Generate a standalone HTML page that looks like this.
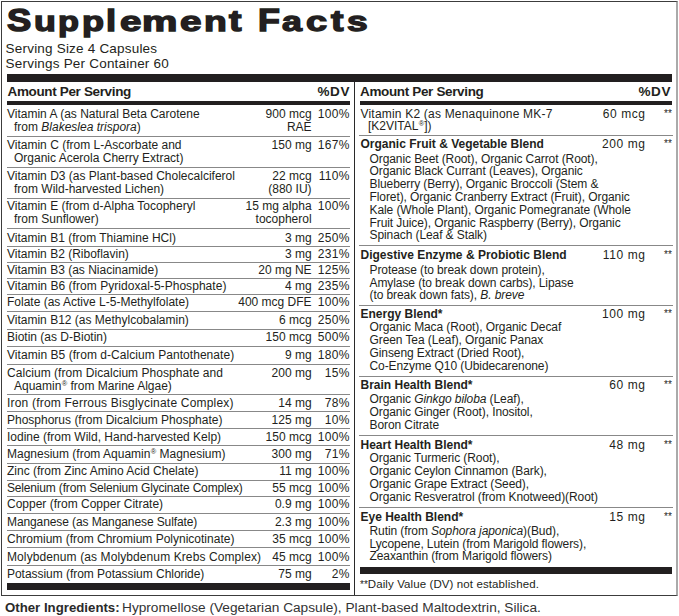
<!DOCTYPE html>
<html><head><meta charset="utf-8"><style>
html,body{margin:0;padding:0;background:#fff;}
body{width:679px;height:616px;position:relative;overflow:hidden;font-family:"Liberation Sans",sans-serif;color:#231f20;}
.t{position:absolute;white-space:nowrap;font-size:12px;line-height:13px;}
.b{font-weight:bold;}
.r{position:absolute;}
.ast{position:absolute;font-size:10px;line-height:10px;letter-spacing:0px;white-space:nowrap;}
.s{letter-spacing:-0.09px;}
.n{letter-spacing:0px;}
.nd{letter-spacing:0.3px;}
.n2{letter-spacing:0.6px;}
sup{font-size:7.4px;vertical-align:baseline;line-height:0;position:relative;top:-3.8px;margin-left:0.3px;}
.box{position:absolute;left:1px;top:1px;width:674px;height:593px;border:1px solid #3c3c3c;border-right:2px solid #aaaaaa;}
.tg{position:absolute;top:1px;font-size:29.5px;font-weight:bold;line-height:40px;white-space:nowrap;transform-origin:0 30px;-webkit-text-stroke:1.4px #231f20;}
.serv{position:absolute;left:5.6px;font-size:13.5px;line-height:15px;white-space:nowrap;letter-spacing:0.2px;}
.hdr{position:absolute;font-size:13.5px;font-weight:bold;line-height:15px;white-space:nowrap;letter-spacing:-0.35px;}
</style></head><body>
<div class="box"></div>
<div class="tg" style="left:7.22px;transform:translateY(-0.5px) scale(1.232,1.04)">S</div>
<div class="tg" style="left:33.53px;transform:translateY(-0.5px) scale(1.214,0.95)">u</div>
<div class="tg" style="left:57.75px;transform:translateY(-0.5px) scale(1.162,0.95)">p</div>
<div class="tg" style="left:81.88px;transform:translateY(-0.5px) scale(1.223,0.95)">p</div>
<div class="tg" style="left:106.43px;transform:translateY(-0.5px) scale(1.230,0.97)">l</div>
<div class="tg" style="left:119.91px;transform:translateY(-0.5px) scale(1.304,0.95)">e</div>
<div class="tg" style="left:142.32px;transform:translateY(-0.5px) scale(1.350,0.95)">m</div>
<div class="tg" style="left:179.61px;transform:translateY(-0.5px) scale(1.310,0.95)">e</div>
<div class="tg" style="left:203.62px;transform:translateY(-0.5px) scale(1.266,0.95)">n</div>
<div class="tg" style="left:228.53px;transform:translateY(-0.5px) scale(1.266,0.99)">t</div>
<div class="tg" style="left:257.75px;transform:translateY(-0.5px) scale(1.216,1.05)">F</div>
<div class="tg" style="left:282.00px;transform:translateY(-0.5px) scale(1.214,0.95)">a</div>
<div class="tg" style="left:306.22px;transform:translateY(-0.5px) scale(1.286,0.95)">c</div>
<div class="tg" style="left:331.03px;transform:translateY(-0.5px) scale(1.266,0.99)">t</div>
<div class="tg" style="left:346.98px;transform:translateY(-0.5px) scale(1.260,0.95)">s</div>

<div class="serv" style="top:41px">Serving Size 4 Capsules</div>
<div class="serv" style="top:56px">Servings Per Container 60</div>
<div class="r" style="left:7px;top:74px;width:665px;height:8px;background:#221f20"></div>
<div class="r" style="left:354px;top:82px;width:1px;height:513px;background:#2a2a2a"></div>
<div class="hdr" style="left:7.5px;top:84px">Amount Per Serving</div>
<div class="hdr" style="right:329px;top:84px;letter-spacing:0.6px">%DV</div>
<div class="hdr" style="left:360px;top:84px">Amount Per Serving</div>
<div class="hdr" style="right:8px;top:84px;letter-spacing:0.6px">%DV</div>
<div class="r" style="left:7px;top:101px;width:343px;height:4px;background:#221f20"></div>
<div class="r" style="left:360px;top:101px;width:312px;height:4px;background:#221f20"></div>
<div class="t " style="left:7px;top:108px;">Vitamin A (as Natural Beta Carotene</div><div class="t " style="left:14px;top:121px;">from <i>Blakeslea trispora</i>)</div><div class="t n" style="right:367.4px;top:108px;">900 mcg</div><div class="t n" style="right:367.4px;top:121px;">RAE</div><div class="t nd" style="right:329.3px;top:108px;">100%</div><div class="r" style="left:7px;top:136px;width:343px;height:1px;background:#888888"></div><div class="t " style="left:7px;top:139px;">Vitamin C (from L-Ascorbate and</div><div class="t " style="left:14px;top:152px;">Organic Acerola Cherry Extract)</div><div class="t n" style="right:367.4px;top:139px;">150 mg</div><div class="t nd" style="right:329.3px;top:139px;">167%</div><div class="r" style="left:7px;top:167px;width:343px;height:1px;background:#888888"></div><div class="t " style="left:7px;top:170px;">Vitamin D3 (as Plant-based Cholecalciferol</div><div class="t " style="left:14px;top:183px;">from Wild-harvested Lichen)</div><div class="t n" style="right:367.4px;top:170px;">22 mcg</div><div class="t n" style="right:367.4px;top:183px;">(880 IU)</div><div class="t nd" style="right:329.3px;top:170px;">110%</div><div class="r" style="left:7px;top:198px;width:343px;height:1px;background:#888888"></div><div class="t " style="left:7px;top:200px;">Vitamin E (from d-Alpha Tocopheryl</div><div class="t " style="left:14px;top:213px;">from Sunflower)</div><div class="t n" style="right:367.4px;top:200px;">15 mg alpha</div><div class="t n" style="right:367.4px;top:213px;">tocopherol</div><div class="t nd" style="right:329.3px;top:200px;">100%</div><div class="r" style="left:7px;top:228px;width:343px;height:1px;background:#888888"></div><div class="t " style="left:7px;top:232px;">Vitamin B1 (from Thiamine HCl)</div><div class="t n" style="right:367.4px;top:232px;">3 mg</div><div class="t nd" style="right:329.3px;top:232px;">250%</div><div class="r" style="left:7px;top:246px;width:343px;height:1px;background:#888888"></div><div class="t " style="left:7px;top:248px;">Vitamin B2 (Riboflavin)</div><div class="t n" style="right:367.4px;top:248px;">3 mg</div><div class="t nd" style="right:329.3px;top:248px;">231%</div><div class="r" style="left:7px;top:262px;width:343px;height:1px;background:#888888"></div><div class="t " style="left:7px;top:264px;">Vitamin B3 (as Niacinamide)</div><div class="t n" style="right:367.4px;top:264px;">20 mg NE</div><div class="t nd" style="right:329.3px;top:264px;">125%</div><div class="r" style="left:7px;top:278px;width:343px;height:1px;background:#888888"></div><div class="t " style="left:7px;top:280px;letter-spacing:0.04px;">Vitamin B6 (from Pyridoxal-5-Phosphate)</div><div class="t n" style="right:367.4px;top:280px;">4 mg</div><div class="t nd" style="right:329.3px;top:280px;">235%</div><div class="r" style="left:7px;top:294px;width:343px;height:1px;background:#888888"></div><div class="t " style="left:7px;top:296px;">Folate (as Active L-5-Methylfolate)</div><div class="t n" style="right:367.4px;top:296px;">400 mcg DFE</div><div class="t nd" style="right:329.3px;top:296px;">100%</div><div class="r" style="left:7px;top:311px;width:343px;height:1px;background:#888888"></div><div class="t " style="left:7px;top:314px;">Vitamin B12 (as Methylcobalamin)</div><div class="t n" style="right:367.4px;top:314px;">6 mcg</div><div class="t nd" style="right:329.3px;top:314px;">250%</div><div class="r" style="left:7px;top:329px;width:343px;height:1px;background:#888888"></div><div class="t " style="left:7px;top:331px;">Biotin (as D-Biotin)</div><div class="t n" style="right:367.4px;top:331px;">150 mcg</div><div class="t nd" style="right:329.3px;top:331px;">500%</div><div class="r" style="left:7px;top:346px;width:343px;height:1px;background:#888888"></div><div class="t " style="left:7px;top:349px;letter-spacing:0.05px;">Vitamin B5 (from d-Calcium Pantothenate)</div><div class="t n" style="right:367.4px;top:349px;">9 mg</div><div class="t nd" style="right:329.3px;top:349px;">180%</div><div class="r" style="left:7px;top:364px;width:343px;height:1px;background:#888888"></div><div class="t " style="left:7px;top:367px;letter-spacing:0.05px;">Calcium (from Dicalcium Phosphate and</div><div class="t " style="left:14px;top:380px;">Aquamin<sup>®</sup> from Marine Algae)</div><div class="t n" style="right:367.4px;top:367px;">200 mg</div><div class="t nd" style="right:329.3px;top:367px;">15%</div><div class="r" style="left:7px;top:394px;width:343px;height:1px;background:#888888"></div><div class="t " style="left:7px;top:397px;letter-spacing:0.2px;">Iron (from Ferrous Bisglycinate Complex)</div><div class="t n" style="right:367.4px;top:397px;">14 mg</div><div class="t nd" style="right:329.3px;top:397px;">78%</div><div class="r" style="left:7px;top:411px;width:343px;height:1px;background:#888888"></div><div class="t " style="left:7px;top:414px;">Phosphorus (from Dicalcium Phosphate)</div><div class="t n" style="right:367.4px;top:414px;">125 mg</div><div class="t nd" style="right:329.3px;top:414px;">10%</div><div class="r" style="left:7px;top:428px;width:343px;height:1px;background:#888888"></div><div class="t " style="left:7px;top:431px;">Iodine (from Wild, Hand-harvested Kelp)</div><div class="t n" style="right:367.4px;top:431px;">150 mcg</div><div class="t nd" style="right:329.3px;top:431px;">100%</div><div class="r" style="left:7px;top:445px;width:343px;height:1px;background:#888888"></div><div class="t " style="left:7px;top:448px;">Magnesium (from Aquamin<sup>®</sup> Magnesium)</div><div class="t n" style="right:367.4px;top:448px;">300 mg</div><div class="t nd" style="right:329.3px;top:448px;">71%</div><div class="r" style="left:7px;top:463px;width:343px;height:1px;background:#888888"></div><div class="t " style="left:7px;top:465px;">Zinc (from Zinc Amino Acid Chelate)</div><div class="t n" style="right:367.4px;top:465px;">11 mg</div><div class="t nd" style="right:329.3px;top:465px;">100%</div><div class="r" style="left:7px;top:480px;width:343px;height:1px;background:#888888"></div><div class="t " style="left:7px;top:482px;letter-spacing:-0.17px;">Selenium (from Selenium Glycinate Complex)</div><div class="t n" style="right:367.4px;top:482px;">55 mcg</div><div class="t nd" style="right:329.3px;top:482px;">100%</div><div class="r" style="left:7px;top:496px;width:343px;height:1px;background:#888888"></div><div class="t " style="left:7px;top:498px;">Copper (from Copper Citrate)</div><div class="t n" style="right:367.4px;top:498px;">0.9 mg</div><div class="t nd" style="right:329.3px;top:498px;">100%</div><div class="r" style="left:7px;top:513px;width:343px;height:1px;background:#888888"></div><div class="t " style="left:7px;top:516px;letter-spacing:-0.1px;">Manganese (as Manganese Sulfate)</div><div class="t n" style="right:367.4px;top:516px;">2.3 mg</div><div class="t nd" style="right:329.3px;top:516px;">100%</div><div class="r" style="left:7px;top:530px;width:343px;height:1px;background:#888888"></div><div class="t " style="left:7px;top:533px;">Chromium (from Chromium Polynicotinate)</div><div class="t n" style="right:367.4px;top:533px;">35 mcg</div><div class="t nd" style="right:329.3px;top:533px;">100%</div><div class="r" style="left:7px;top:547px;width:343px;height:1px;background:#888888"></div><div class="t " style="left:7px;top:551px;letter-spacing:0.1px;">Molybdenum (as Molybdenum Krebs Complex)</div><div class="t n" style="right:367.4px;top:551px;">45 mcg</div><div class="t nd" style="right:329.3px;top:551px;">100%</div><div class="r" style="left:7px;top:565px;width:343px;height:1px;background:#888888"></div><div class="t " style="left:7px;top:568px;letter-spacing:-0.04px;">Potassium (from Potassium Chloride)</div><div class="t n" style="right:367.4px;top:568px;">75 mg</div><div class="t nd" style="right:329.3px;top:568px;">2%</div><div class="t " style="left:360.5px;top:108px;letter-spacing:0.2px;">Vitamin K2 (as Menaquinone MK-7</div><div class="t n2" style="right:33.4px;top:108px;">60 mcg</div><div class="ast" style="left:664px;top:109px">**</div><div class="t " style="left:368px;top:120px;">[K2VITAL<sup>®</sup>])</div><div class="r" style="left:359px;top:135px;width:314px;height:1px;background:#888888"></div><div class="t b" style="left:360.5px;top:138px;">Organic Fruit &amp; Vegetable Blend</div><div class="t n2" style="right:33.4px;top:138px;">200 mg</div><div class="ast" style="left:664px;top:139px">**</div><div class="t s" style="left:369.5px;top:153px;">Organic Beet (Root), Organic Carrot (Root),</div><div class="t s" style="left:369.5px;top:165px;">Organic Black Currant (Leaves), Organic</div><div class="t s" style="left:369.5px;top:178px;">Blueberry (Berry), Organic Broccoli (Stem &amp;</div><div class="t s" style="left:369.5px;top:191px;">Floret), Organic Cranberry Extract (Fruit), Organic</div><div class="t s" style="left:369.5px;top:204px;">Kale (Whole Plant), Organic Pomegranate (Whole</div><div class="t s" style="left:369.5px;top:217px;">Fruit Juice), Organic Raspberry (Berry), Organic</div><div class="t s" style="left:369.5px;top:229px;">Spinach (Leaf &amp; Stalk)</div><div class="r" style="left:359px;top:245px;width:314px;height:1px;background:#888888"></div><div class="t b" style="left:360.5px;top:249px;">Digestive Enzyme &amp; Probiotic Blend</div><div class="t n2" style="right:33.4px;top:249px;">110 mg</div><div class="ast" style="left:664px;top:250px">**</div><div class="t s" style="left:369.5px;top:264px;">Protease (to break down protein),</div><div class="t s" style="left:369.5px;top:277px;">Amylase (to break down carbs), Lipase</div><div class="t s" style="left:369.5px;top:289px;">(to break down fats), <i>B. breve</i></div><div class="r" style="left:359px;top:305px;width:314px;height:1px;background:#888888"></div><div class="t b" style="left:360.5px;top:308px;">Energy Blend*</div><div class="t n2" style="right:33.4px;top:308px;">100 mg</div><div class="ast" style="left:664px;top:309px">**</div><div class="t s" style="left:369.5px;top:321px;">Organic Maca (Root), Organic Decaf</div><div class="t s" style="left:369.5px;top:334px;">Green Tea (Leaf), Organic Panax</div><div class="t s" style="left:369.5px;top:347px;">Ginseng Extract (Dried Root),</div><div class="t s" style="left:369.5px;top:360px;">Co-Enzyme Q10 (Ubidecarenone)</div><div class="r" style="left:359px;top:376px;width:314px;height:1px;background:#888888"></div><div class="t b" style="left:360.5px;top:379px;">Brain Health Blend*</div><div class="t n2" style="right:33.4px;top:379px;">60 mg</div><div class="ast" style="left:664px;top:380px">**</div><div class="t s" style="left:369.5px;top:393px;">Organic <i>Ginkgo biloba</i> (Leaf),</div><div class="t s" style="left:369.5px;top:406px;">Organic Ginger (Root), Inositol,</div><div class="t s" style="left:369.5px;top:419px;">Boron Citrate</div><div class="r" style="left:359px;top:435px;width:314px;height:1px;background:#888888"></div><div class="t b" style="left:360.5px;top:439px;">Heart Health Blend*</div><div class="t n2" style="right:33.4px;top:439px;">48 mg</div><div class="ast" style="left:664px;top:440px">**</div><div class="t s" style="left:369.5px;top:452px;">Organic Turmeric (Root),</div><div class="t s" style="left:369.5px;top:465px;">Organic Ceylon Cinnamon (Bark),</div><div class="t s" style="left:369.5px;top:478px;">Organic Grape Extract (Seed),</div><div class="t s" style="left:369.5px;top:491px;">Organic Resveratrol (from Knotweed)(Root)</div><div class="r" style="left:359px;top:507px;width:314px;height:1px;background:#888888"></div><div class="t b" style="left:360.5px;top:511px;">Eye Health Blend*</div><div class="t n2" style="right:33.4px;top:511px;">15 mg</div><div class="ast" style="left:664px;top:512px">**</div><div class="t s" style="left:369.5px;top:525px;">Rutin (from <i>Sophora japonica</i>)(Bud),</div><div class="t s" style="left:369.5px;top:538px;">Lycopene, Lutein (from Marigold flowers),</div><div class="t s" style="left:369.5px;top:550px;">Zeaxanthin (from Marigold flowers)</div>
<div class="r" style="left:7px;top:583px;width:343px;height:7px;background:#221f20"></div>
<div class="r" style="left:360px;top:567px;width:312px;height:7px;background:#221f20"></div>
<div class="t" style="left:360px;top:578px;font-size:11.5px;letter-spacing:0.1px"><span style="font-size:10px;letter-spacing:0px;position:relative;top:-0.5px">**</span>Daily Value (DV) not established.</div>
<div class="t b" style="left:5px;top:601px;font-size:12.5px;line-height:14px;transform:scaleX(1.058);transform-origin:0 0;color:#2a2a2a">Other Ingredients:</div>
<div class="t" style="left:122px;top:601px;font-size:12.5px;line-height:14px;transform:scaleX(1.094);transform-origin:0 0;color:#333">Hypromellose (Vegetarian Capsule), Plant-based Maltodextrin, Silica.</div>
</body></html>
